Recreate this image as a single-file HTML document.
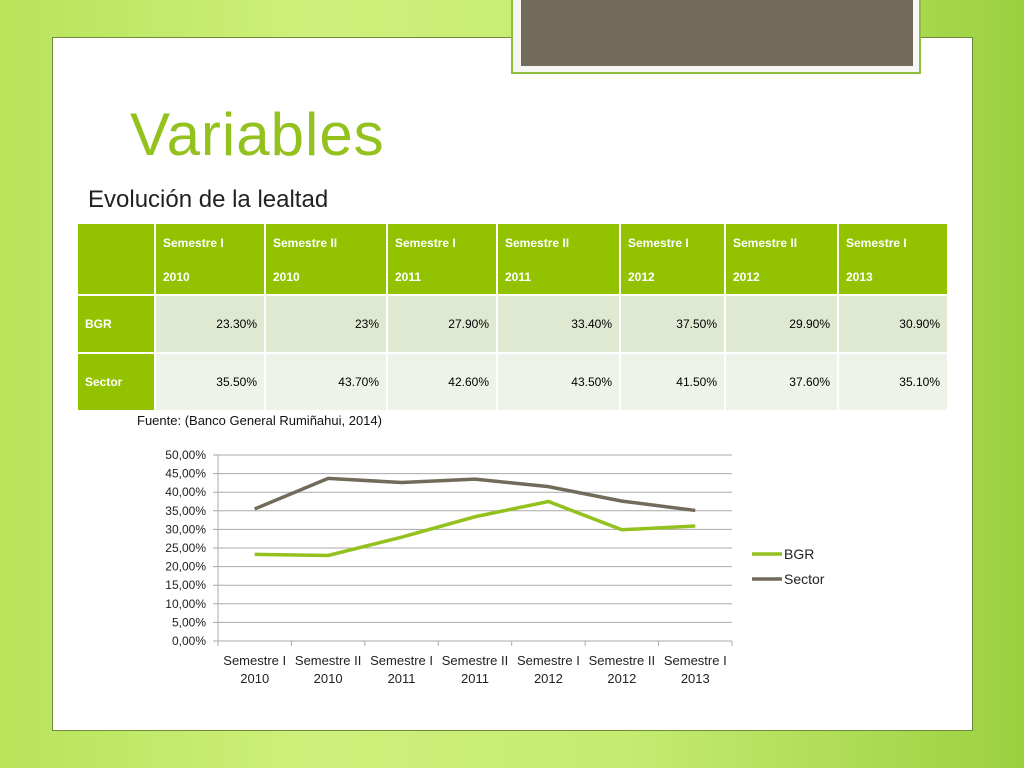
<!DOCTYPE html>
<html><head><meta charset="utf-8"><style>
body{margin:0;width:1024px;height:768px;position:relative;overflow:hidden;font-family:"Liberation Sans",sans-serif;
background:linear-gradient(90deg,#b8e35a 0%,#cdf07a 30%,#c6ec72 60%,#9bd040 100%);}
.abs{position:absolute}
#slide{left:52px;top:37px;width:919px;height:692px;background:#fff;border:1px solid #6e8a3a;}
#topbox{left:511px;top:-2px;width:410px;height:76px;background:#f6f6f4;border:2px solid #8fbf3a;border-top:none;box-sizing:border-box}
#topinner{left:521px;top:0;width:392px;height:66px;background:#726a5a}
#title{left:130px;top:100px;font-size:60px;color:#93c21e;letter-spacing:1px}
#sub{left:88px;top:186px;font-size:24px;color:#222}
table{position:absolute;left:76px;top:222px;width:873px;table-layout:fixed;border-collapse:separate;border-spacing:2px 2px;font-size:12px;font-family:"Liberation Sans Narrow","Liberation Sans",sans-serif}
td{padding:0 7px;vertical-align:middle;overflow:hidden;white-space:nowrap}
tr.h td{background:#93c300;color:#fff;height:66px;font-weight:bold;line-height:34px;vertical-align:top;padding-top:2px}
tr.r1 td{background:#dfe9d2;height:56px;text-align:right}
tr.r2 td{background:#eef3e9;height:56px;text-align:right}
tr td.lab{background:#93c300;color:#fff;text-align:left;font-weight:bold}
#src{left:137px;top:413px;font-size:13px;color:#111}
</style></head><body>
<div id="slide" class="abs"></div>
<div id="topbox" class="abs"></div>
<div id="topinner" class="abs"></div>
<div id="title" class="abs">Variables</div>
<div id="sub" class="abs">Evolución de la lealtad</div>
<table>
<colgroup><col style="width:76px"><col style="width:108px"><col style="width:120px"><col style="width:108px"><col style="width:121px"><col style="width:103px"><col style="width:111px"><col style="width:108px"></colgroup>
<tr class="h"><td></td><td>Semestre I<br>2010</td><td>Semestre II<br>2010</td><td>Semestre I<br>2011</td><td>Semestre II<br>2011</td><td>Semestre I<br>2012</td><td>Semestre II<br>2012</td><td>Semestre I<br>2013</td></tr>
<tr class="r1"><td class="lab">BGR</td><td>23.30%</td><td>23%</td><td>27.90%</td><td>33.40%</td><td>37.50%</td><td>29.90%</td><td>30.90%</td></tr>
<tr class="r2"><td class="lab">Sector</td><td>35.50%</td><td>43.70%</td><td>42.60%</td><td>43.50%</td><td>41.50%</td><td>37.60%</td><td>35.10%</td></tr>
</table>
<div id="src" class="abs">Fuente: (Banco General Rumiñahui, 2014)</div>
<svg class="abs" style="left:0;top:0" width="1024" height="768" id="chart"></svg>
<script>
const categories=["Semestre I|2010","Semestre II|2010","Semestre I|2011","Semestre II|2011","Semestre I|2012","Semestre II|2012","Semestre I|2013"];
const bgr=[23.3,23.0,27.9,33.4,37.5,29.9,30.9];
const sector=[35.5,43.7,42.6,43.5,41.5,37.6,35.1];
const yTicks=[0,5,10,15,20,25,30,35,40,45,50];
const seriesNames=["BGR","Sector"];
const colors=["#93c21e","#726a5a"];
const svg=document.getElementById('chart');const NS='http://www.w3.org/2000/svg';
const x0=218,x1=732,yb=641,yt=455;
const bw=(x1-x0)/categories.length;
const X=i=>x0+bw*(i+0.5);
const Y=v=>yb-(v-0)/50*(yb-yt);
function mk(t,a){const e=document.createElementNS(NS,t);for(const k in a)e.setAttribute(k,a[k]);svg.appendChild(e);return e;}
yTicks.forEach(v=>{
 const l=mk('line',{x1:x0-5,x2:x1,y1:Y(v),y2:Y(v),stroke:'#aaa','stroke-width':1});
 
 
 const t=mk('text',{x:x0-12,y:Y(v)+4,'text-anchor':'end','font-size':12,fill:'#222'});
 t.textContent=v.toFixed(2).replace('.',',')+'%';
 
 
});
const ax=mk('line',{x1:x0,x2:x0,y1:yt,y2:yb,stroke:'#aaa'});


for(let i=0;i<=categories.length;i++){
 const tk=mk('line',{x1:x0+bw*i,x2:x0+bw*i,y1:yb,y2:yb+5,stroke:'#aaa'});
 
 
}
categories.forEach((c,i)=>{
 c.split('|').forEach((s,j)=>{
  const t=mk('text',{x:X(i),y:665+j*18,'text-anchor':'middle','font-size':13,fill:'#222'});
  t.textContent=s;
  
  
 });
});
[bgr,sector].forEach((d,k)=>{
 const p=mk('polyline',{points:d.map((v,i)=>X(i)+','+Y(v)).join(' '),fill:'none',stroke:colors[k],'stroke-width':3.5});
 
 
 const ly=554+k*25;
 const ll=mk('line',{x1:752,x2:782,y1:ly,y2:ly,stroke:colors[k],'stroke-width':3.5});
 
 
 const lt=mk('text',{x:784,y:ly+5,'font-size':14,fill:'#222'});
 lt.textContent=seriesNames[k];
 
 
});
</script>
</body></html>
